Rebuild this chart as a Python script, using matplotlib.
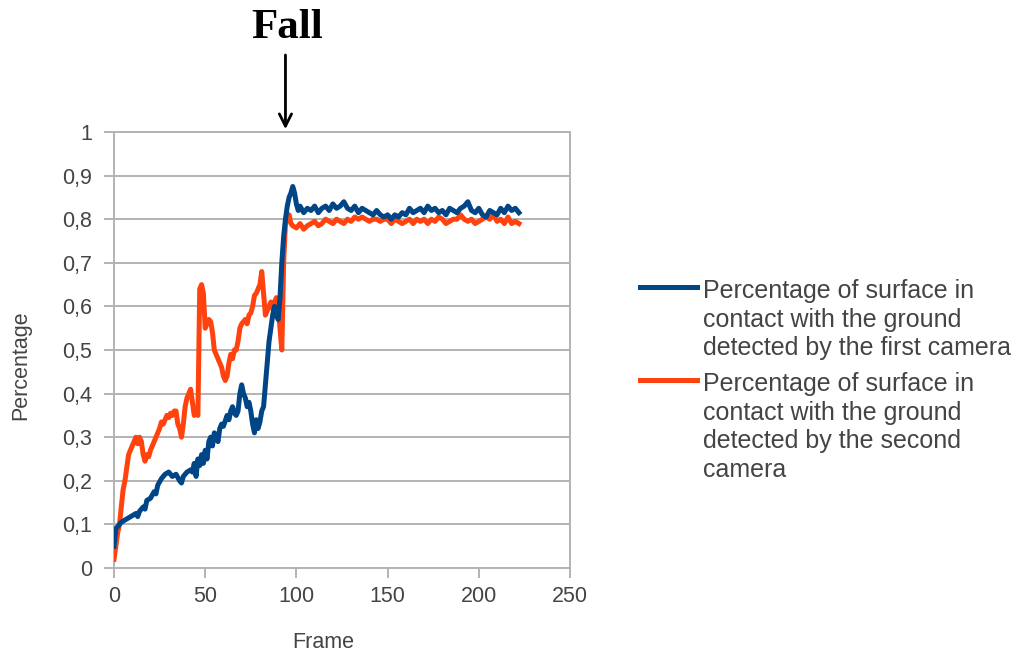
import matplotlib
matplotlib.use("Agg")
import matplotlib.pyplot as plt
from matplotlib.lines import Line2D
from matplotlib.ticker import FuncFormatter

# values
blue_frames = [0, 1, 2, 3, 4, 6, 8, 10, 12, 13, 14, 16, 17, 18, 20, 22, 23, 24, 26, 28,
               30, 32, 34, 36, 37, 38, 40, 42, 43, 44, 45, 46, 47, 48, 49, 50, 51, 52, 53, 54,
               55, 56, 57, 58, 59, 60, 62, 63, 64, 65, 66, 67, 68, 69, 70, 71, 72, 73, 74, 75,
               76, 77, 78, 79, 80, 81, 82, 83, 84, 85, 86, 87, 88, 89, 90, 91, 92, 93, 94, 95,
               96, 97, 98, 99, 100, 101,
               102, 104, 106, 108, 110, 112, 114, 116, 118, 120, 122, 124, 126, 128, 130, 132,
               134, 136, 138, 140, 142, 144, 146, 148, 150, 152, 154, 156, 158, 160, 162, 164,
               166, 168, 170, 172, 174, 176, 178, 180, 182, 184, 186, 188, 190, 192, 194, 196,
               198, 200, 202, 204, 206, 208, 210, 212, 214, 216, 218, 220, 222]
blue_values = [0.05, 0.09, 0.095, 0.10, 0.105, 0.11, 0.115, 0.12, 0.125, 0.118, 0.13, 0.14, 0.135,
               0.155, 0.16, 0.175, 0.17, 0.19, 0.205, 0.215, 0.22, 0.21, 0.215, 0.20, 0.195, 0.21,
               0.22, 0.225, 0.22, 0.24, 0.21, 0.25, 0.235, 0.26, 0.24, 0.27, 0.25, 0.29, 0.30, 0.28,
               0.31, 0.305, 0.29, 0.32, 0.33, 0.325, 0.35, 0.34, 0.36, 0.37, 0.355, 0.35, 0.36, 0.40,
               0.42, 0.40, 0.39, 0.37, 0.38, 0.36, 0.33, 0.31, 0.34, 0.32, 0.335, 0.36, 0.37, 0.42,
               0.47, 0.52, 0.55, 0.58, 0.60, 0.58, 0.57, 0.62, 0.70, 0.76, 0.80, 0.83, 0.85, 0.86,
               0.875, 0.86, 0.835, 0.82,
               0.83, 0.815, 0.825, 0.82, 0.83, 0.815, 0.825, 0.83, 0.82, 0.835, 0.825, 0.83, 0.84,
               0.825, 0.82, 0.83, 0.815, 0.825, 0.82, 0.815, 0.81, 0.82, 0.81, 0.805, 0.81, 0.80,
               0.81, 0.805, 0.815, 0.81, 0.825, 0.815, 0.82, 0.825, 0.815, 0.83, 0.82, 0.825, 0.815,
               0.82, 0.81, 0.825, 0.82, 0.815, 0.825, 0.83, 0.84, 0.82, 0.815, 0.825, 0.81, 0.805,
               0.82, 0.815, 0.81, 0.825, 0.815, 0.83, 0.82, 0.825, 0.815]

orange_frames = list(range(0, 99)) + list(range(100, 223, 2))
orange_values = [0.02, 0.05, 0.08, 0.10, 0.14, 0.18, 0.20, 0.23, 0.26, 0.27,
                 0.28, 0.29, 0.30, 0.285, 0.30, 0.29, 0.26, 0.245, 0.26, 0.255,
                 0.27, 0.28, 0.29, 0.30, 0.31, 0.32, 0.335, 0.33, 0.34, 0.35,
                 0.345, 0.355, 0.35, 0.36, 0.36, 0.33, 0.32, 0.30, 0.33, 0.37,
                 0.39, 0.40, 0.41, 0.38, 0.35, 0.36, 0.35, 0.64, 0.65, 0.63,
                 0.55, 0.56, 0.57, 0.565, 0.54, 0.50, 0.49, 0.48, 0.47, 0.46,
                 0.44, 0.43, 0.44, 0.47, 0.49, 0.48, 0.50, 0.50, 0.52, 0.55,
                 0.56, 0.565, 0.57, 0.56, 0.58, 0.585, 0.60, 0.625, 0.63, 0.64,
                 0.65, 0.68, 0.63, 0.58, 0.59, 0.60, 0.61, 0.595, 0.61, 0.62,
                 0.60, 0.55, 0.50, 0.70, 0.79, 0.80, 0.81, 0.79, 0.785,
                 0.78, 0.79, 0.777, 0.785, 0.79, 0.795, 0.785, 0.79, 0.80, 0.795,
                 0.79, 0.80, 0.795, 0.79, 0.80, 0.795, 0.805, 0.80, 0.805, 0.80,
                 0.795, 0.80, 0.80, 0.795, 0.80, 0.80, 0.79, 0.80, 0.795, 0.79,
                 0.795, 0.80, 0.79, 0.80, 0.795, 0.80, 0.79, 0.80, 0.795, 0.805,
                 0.80, 0.79, 0.795, 0.80, 0.80, 0.81, 0.80, 0.795, 0.80, 0.79,
                 0.795, 0.80, 0.805, 0.80, 0.81, 0.795, 0.80, 0.79, 0.805, 0.79,
                 0.795, 0.79]

labels = ["Percentage of surface in\ncontact with the ground\ndetected by the first camera",
          "Percentage of surface in\ncontact with the ground\ndetected by the second\ncamera"]
colors = ['#004586', '#ff420e']
x_ticks = [0, 50, 100, 150, 200, 250]
y_ticks = [0, 0.1, 0.2, 0.3, 0.4, 0.5, 0.6, 0.7, 0.8, 0.9, 1]

plt.rcParams['font.family'] = ['Liberation Sans', 'DejaVu Sans']
text_color = '#444444'
grid_color = '#b3b3b3'
W, H = 1018, 657

fig = plt.figure(figsize=(W / 100, H / 100), dpi=100)
ax = fig.add_axes([114 / W, 1 - 568 / H, 456 / W, 436 / H])

ax.plot(orange_frames, orange_values, color=colors[1], lw=3.6, zorder=3)
ax.plot(blue_frames, blue_values, color=colors[0], lw=3.6, zorder=4)

ax.set_xlim(0, 250)
ax.set_ylim(0, 1)
ax.set_xticks(x_ticks)
ax.set_yticks(y_ticks)
ax.yaxis.set_major_formatter(FuncFormatter(lambda v, p: ('%g' % v).replace('.', ',')))
ax.tick_params(colors=grid_color, labelcolor=text_color, labelsize=15.5, length=7, width=1.4)
ax.tick_params(axis='x', pad=6)
ax.tick_params(axis='y', pad=9)
ax.grid(axis='y', color=grid_color, lw=1.4)
ax.set_axisbelow(True)
for s in ax.spines.values():
    s.set_color(grid_color)
    s.set_linewidth(1.4)

ax.set_xlabel('Frame', color=text_color, fontsize=15.5)
ax.set_ylabel('Percentage', color=text_color, fontsize=15.5)
ax.xaxis.set_label_coords((323 - 114) / 456, -(632 - 568) / 436)
ax.yaxis.set_label_coords((31 - 114) / 456, (568 - 365) / 436)

# legend drawn by hand so the handle sits on the first text line
handle_y = [287, 380]
text_top = [279, 372]
for lab, col, hy, ty in zip(labels, colors, handle_y, text_top):
    fig.add_artist(Line2D([640 / W, 697 / W], [1 - hy / H, 1 - hy / H], color=col, lw=3.6))
    fig.text(703 / W, 1 - ty / H, lab, color=text_color, fontsize=18, va='top', ha='left',
             linespacing=1.24)

# annotation for the fall moment
fig.text(287 / W, 1 - 38 / H, 'Fall', family=['Liberation Serif', 'DejaVu Serif'],
         fontweight='bold', fontsize=31, ha='center', va='baseline')
ax.annotate('', xy=(94, 1.0), xytext=(94, 1.183), xycoords='data',
            arrowprops=dict(arrowstyle='->', color='black', lw=2, mutation_scale=22),
            annotation_clip=False)

fig.savefig('out.png', dpi=100)
